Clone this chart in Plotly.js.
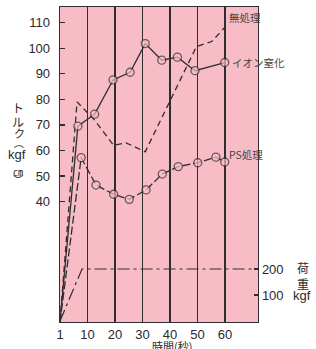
<!DOCTYPE html>
<html><head><meta charset="utf-8">
<script src="https://cdn.plot.ly/plotly-3.0.1.min.js"></script>
<style>html,body{margin:0;padding:0;background:#fff}#c{width:316px;height:349px}</style>
</head><body><div id="c"></div>
<script>
// ---- data ----
const TORQUE_START = -7; // torque lines start at the bottom-left corner
const xTicks = [0, 10, 20, 30, 40, 50, 60];
const xTickText = ['1', '10', '20', '30', '40', '50', '60'];
const yTicks = [40, 50, 60, 70, 80, 90, 100, 110];
const y2Ticks = [100, 200];

const ionX = [0, 6.5, 12.6, 19.3, 25.5, 31, 37, 42.7, 49.1, 59.9];
const ionY = [TORQUE_START, 69.5, 74.2, 87.6, 90.6, 101.8, 95.3, 96.5, 91.2, 94.4];

const psX = [0, 7.7, 13.1, 19.5, 25.2, 31.3, 37.2, 43, 50.1, 56.7, 59.9];
const psY = [TORQUE_START, 57.2, 46.5, 42.9, 40.9, 44.6, 50.8, 53.7, 55.2, 57.4, 55.5];

const rawX = [0, 6.2, 12.5, 19.5, 24, 31, 49.6, 55.2, 60.2];
const rawY = [TORQUE_START, 79, 72, 62, 63, 59.5, 100.6, 102.6, 108.5];

const loadX = [0, 8, 72];
const loadY = [0, 200, 200];

// ---- styles ----
const PINK = '#f8bcc6';
const DARK = '#2e2e2e';
const TXT = '#2a2a2a';
const JP = '"Noto Sans CJK JP", sans-serif';
const NUM = '"Liberation Sans", Arial, sans-serif';

function mk(n){ const a = new Array(n).fill(8); a[0] = 0; return a; }

const traces = [
  {x: loadX, y: loadY, yaxis: 'y2', mode: 'lines', line: {color: DARK, width: 1.2, dash: '12px,4px,3px,4px'}, hoverinfo: 'skip'},
  {x: rawX, y: rawY, mode: 'lines', line: {color: DARK, width: 1.3, dash: '6px,4px'}},
  {x: psX, y: psY, mode: 'lines+markers', line: {color: DARK, width: 1.3, dash: '8px,3px'},
   marker: {size: mk(psX.length), color: PINK, line: {color: DARK, width: 1.3}}},
  {x: ionX, y: ionY, mode: 'lines+markers', line: {color: DARK, width: 1.3},
   marker: {size: mk(ionX.length), color: PINK, line: {color: DARK, width: 1.3}}}
];

function lab(text, px, py, size, opts){
  return Object.assign({text: text, xref: 'paper', yref: 'paper', x: 0, y: 1,
    xshift: px - 60, yshift: 7 - py, showarrow: false, xanchor: 'center', yanchor: 'middle',
    font: {family: JP, size: size, color: TXT}}, opts || {});
}

const annotations = [
  lab('ト', 18, 107, 12), lab('ル', 18, 121, 12), lab('ク', 19, 133, 11),
  lab('︵', 19, 142, 10), lab('kgf', 17, 154, 12, {font: {family: NUM, size: 13, color: TXT}}),
  lab('㎝', 18, 171, 10), lab('︶', 18, 179, 10),
  lab('荷', 303, 267, 12), lab('重', 303, 283, 12),
  lab('kgf', 302, 295, 12, {font: {family: NUM, size: 13, color: TXT}}),
  lab('時間(秒)', 172, 346, 11),
  lab('無処理', 227, 17, 10.5, {xanchor: 'left', font: {family: JP, size: 10.5, color: '#444'}}),
  lab('イオン窒化', 230, 62, 10.5, {xanchor: 'left', font: {family: JP, size: 10.5, color: '#444'}}),
  lab('PS処理', 227, 154, 10.5, {xanchor: 'left', font: {family: JP, size: 10.5, color: '#444'}})
];

const layout = {
  width: 316, height: 349,
  margin: {l: 60, r: 58, t: 7, b: 27, pad: 0},
  paper_bgcolor: '#ffffff', plot_bgcolor: PINK,
  showlegend: false,
  font: {family: NUM, size: 13, color: TXT},
  xaxis: {range: [0, 72], tickvals: xTicks, ticktext: xTickText,
    showgrid: true, gridcolor: DARK, gridwidth: 1.5, zeroline: false,
    showline: true, linecolor: DARK, linewidth: 1.3, mirror: true, ticks: '',
    tickfont: {family: NUM, size: 13, color: TXT}, fixedrange: true},
  yaxis: {range: [-7.05, 116.1], tickvals: yTicks, showgrid: false, zeroline: false,
    showline: true, linecolor: DARK, linewidth: 1.3, ticks: 'inside', ticklen: 5, tickcolor: DARK, tickwidth: 1.2,
    ticklabelstandoff: 6, tickfont: {family: NUM, size: 13, color: TXT}},
  yaxis2: {overlaying: 'y', side: 'right', range: [-3.8, 1207.7], tickvals: y2Ticks,
    showgrid: false, zeroline: false, showline: true, linecolor: DARK, linewidth: 1.3,
    ticks: 'inside', ticklen: 4, tickcolor: DARK, tickwidth: 1.2, ticklabelstandoff: 0,
    tickfont: {family: NUM, size: 13, color: TXT}},
  annotations: annotations
};

Plotly.newPlot('c', traces, layout, {staticPlot: true, displayModeBar: false});
</script></body></html>
